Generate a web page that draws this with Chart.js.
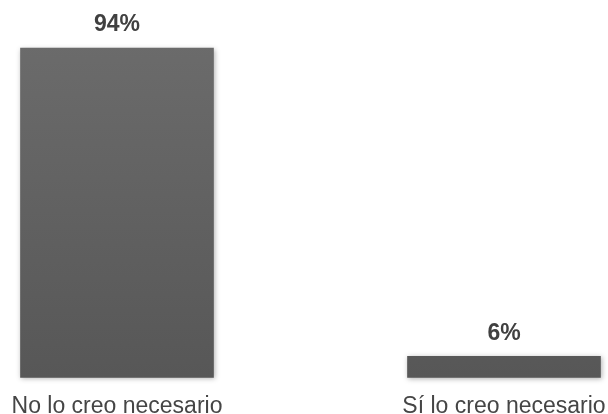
<!DOCTYPE html>
<html>
<head>
<meta charset="utf-8">
<script src="https://cdn.jsdelivr.net/npm/chart.js@4"></script>
<style>
	html, body { margin: 0; padding: 0; background: #fff; }
	#wrap { width: 608px; height: 414px; }
</style>
</head>
<body>
<div id="wrap"><canvas id="bar-chart"></canvas></div>
<script>
const categories = ['No lo creo necesario', 'Sí lo creo necesario']
const percentValues = [94, 6]
const valueLabels = ['94%', '6%']

//vertical gradient for the bars, a bit lighter at the top
function barFill(context) {
	const area = context.chart.chartArea
	if (!area) return '#5f5f5f'
	const g = context.chart.ctx.createLinearGradient(0, area.top, 0, area.bottom)
	g.addColorStop(0, '#6c6c6c')
	g.addColorStop(1, '#575757')
	return g
}

//soft shadow behind the bars
const barShadow = {
	id: 'barShadow',
	beforeDatasetsDraw(chart) {
		const ctx = chart.ctx
		ctx.save()
		ctx.shadowColor = 'rgba(0,0,0,0.3)'
		ctx.shadowBlur = 5
		ctx.shadowOffsetX = 1
		ctx.shadowOffsetY = 1
	},
	afterDatasetsDraw(chart) {
		chart.ctx.restore()
	}
}

//percent text above each bar
const valueText = {
	id: 'valueText',
	afterDraw(chart) {
		const ctx = chart.ctx
		const meta = chart.getDatasetMeta(0)
		ctx.save()
		ctx.font = 'bold 23px "Liberation Sans", Arial, sans-serif'
		ctx.fillStyle = '#404040'
		ctx.textAlign = 'center'
		ctx.textBaseline = 'middle'
		meta.data.forEach((bar, i) => {
			ctx.fillText(valueLabels[i], bar.x, bar.y - 23)
		})
		ctx.restore()
	}
}

const chartData = {
	labels: categories,
	datasets: [
		{
			data: percentValues,
			backgroundColor: barFill,
			barThickness: 193,
			borderWidth: 0,
			clip: false
		}
	]
}

const config = {
	type: 'bar',
	data: chartData,
	options: {
		responsive: true,
		maintainAspectRatio: false,
		animation: false,
		layout: { padding: { left: 117, right: 104, top: 27, bottom: -21 } },
		plugins: { legend: { display: false }, tooltip: { enabled: false } },
		scales: {
			x: {
				offset: false,
				grid: { display: false, drawTicks: false },
				border: { display: false },
				ticks: {
					color: '#454545',
					padding: 15,
					maxRotation: 0,
					font: { size: 23, family: '"Liberation Sans", Arial, sans-serif' }
				},
				//labels may hang past the plot edges, keep the layout padding fixed
				afterFit(scale) {
					scale.paddingLeft = 0
					scale.paddingRight = 0
				}
			},
			y: {
				display: false,
				min: 0,
				max: 100
			}
		}
	},
	plugins: [barShadow, valueText]
}

new Chart(document.querySelector('#bar-chart'), config)
</script>
</body>
</html>
